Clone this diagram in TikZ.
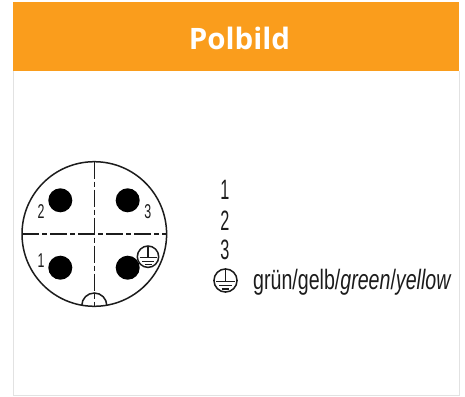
\documentclass[tikz,border=0pt]{standalone}
\usepackage{fontspec}
\setmainfont{Liberation Sans}
\newfontfamily\titlefont{Open Sans}
\definecolor{headbar}{HTML}{FA9D1C}
\definecolor{frameline}{HTML}{E2E2E2}
\definecolor{inkline}{HTML}{1C1C1C}
\tikzset{
  ink/.style={draw=inkline,line width=1.5pt},
  thinink/.style={draw=inkline,line width=1.3pt},
  axisline/.style={draw=inkline,line width=1.2pt,dash pattern=on 17pt off 3pt on 5pt off 3pt},
  pinhole/.style={fill=black},
  numlabel/.style={text=inkline,inner sep=0pt,font=\fontsize{20}{20}\selectfont},
  biglabel/.style={text=inkline,inner sep=0pt,font=\fontsize{28}{28}\selectfont},
  earthmark/.pic={
    \draw[ink] (0,0) circle (10.7);
    \draw[thinink] (0,-10) -- (0,1);
    \draw[thinink] (-8.5,1) -- (8.5,1);
    \draw[thinink] (-6,4.5) -- (6,4.5);
    \draw[thinink] (-3.5,8) -- (3.5,8);
  }
}
\newcommand{\narrow}[2]{\scalebox{#1}[1]{#2}}
\begin{document}
\begin{tikzpicture}[x=1pt,y=-1pt]
\useasboundingbox (0,0) rectangle (465,396);
\fill[white] (0,0) rectangle (465,396);
\draw[frameline,line width=1pt] (13.5,71) -- (13.5,395.5) -- (459.5,395.5) -- (459.5,71);
\fill[headbar] (13,2) rectangle (459,71);
\node[text=white,inner sep=0pt,font=\titlefont\bfseries\fontsize{29.5}{29.5}\selectfont] (title) at (239.5,38) {Polbild};
% connector face
\draw[ink] (94.3,234) circle (72.3);
\draw[axisline] (94.3,161.7) -- (94.3,306.3);
\draw[axisline] (22,234) -- (166.6,234);
\fill[pinhole] (60.3,200.3) circle (12);
\fill[pinhole] (127.7,200.3) circle (12);
\fill[pinhole] (60.3,267.7) circle (12);
\fill[pinhole] (127.7,267.7) circle (12);
\draw[ink] (81.8,305.5) arc[start angle=180,end angle=360,radius=12.5];
\pic at (148,256.7) {earthmark};
\node[numlabel] (p2) at (41,211.7) {\narrow{.62}{2}};
\node[numlabel] (p3) at (147.7,212) {\narrow{.62}{3}};
\node[numlabel] (p1) at (41,260.7) {\narrow{.62}{1}};
% legend
\node[biglabel] (l1) at (225,190) {\narrow{.58}{1}};
\node[biglabel] (l2) at (225,221) {\narrow{.58}{2}};
\node[biglabel] (l3) at (225,250) {\narrow{.58}{3}};
\pic[scale=1.08] at (225.5,280.5) {earthmark};
\node[biglabel,anchor=base west] (col) at (253,289.5) {\narrow{.70}{grün/gelb/\textit{green}/\textit{yellow}}};
\end{tikzpicture}
\end{document}
